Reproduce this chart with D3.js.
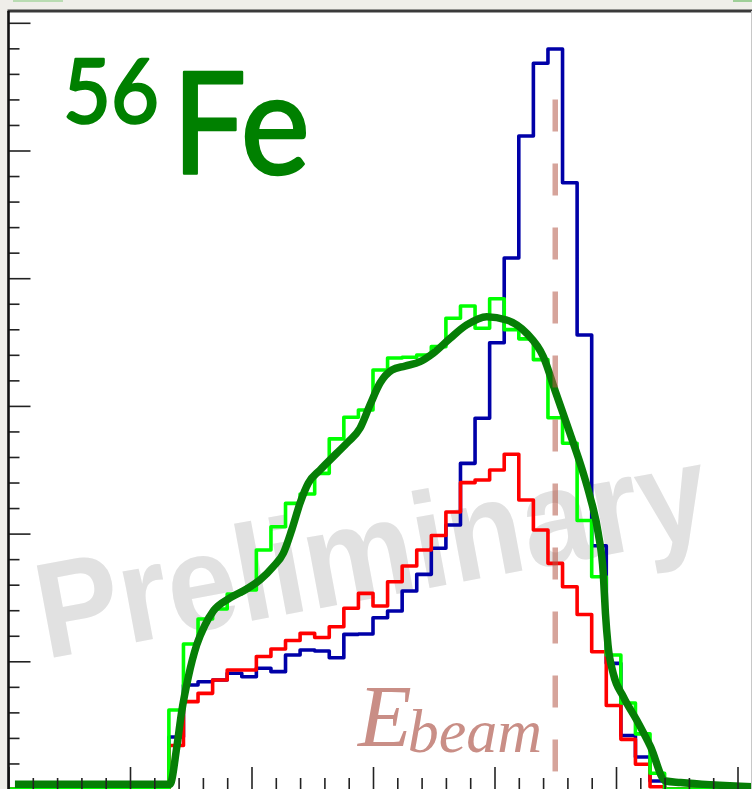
<!DOCTYPE html>
<html>
<head>
<meta charset="utf-8">
<script src="https://cdn.jsdelivr.net/npm/d3@7/dist/d3.min.js"></script>
<style>
  html, body { margin: 0; padding: 0; background: #efeee9; }
  svg { display: block; }
</style>
</head>
<body>
<svg id="chart" width="752" height="789"></svg>
<script>
// Reconstructed energy, 56Fe. Bins are 0.12 wide starting at 0; first filled bin is #11.
const binWidth = 0.12;
const firstBin = 11;

const blueValues = [0.407, 0.814, 0.840, 0.854, 0.906, 0.879, 0.945, 0.919, 1.049, 1.088,
  1.081, 1.028, 1.211, 1.214, 1.341, 1.394, 1.550, 1.681, 1.885, 2.067,
  2.550, 2.903, 3.495, 4.158, 5.114, 5.683, 5.795, 4.748, 3.555, 1.905,
  0.984, 0.419, 0.251, 0.063];

const redValues = [0.341, 0.684, 0.749, 0.854, 0.932, 0.932, 1.038, 1.096, 1.163, 1.219,
  1.186, 1.271, 1.415, 1.532, 1.433, 1.623, 1.746, 1.872, 1.985, 2.169,
  2.399, 2.420, 2.498, 2.621, 2.263, 2.028, 1.767, 1.584, 1.366, 1.075,
  0.654, 0.389, 0.194, 0.018];

const greenValues = [0.619, 1.135, 1.331, 1.410, 1.527, 1.558, 1.872, 2.054, 2.237, 2.310,
  2.472, 2.742, 2.911, 2.968, 3.281, 3.375, 3.381, 3.399, 3.464, 3.686,
  3.782, 3.608, 3.839, 3.597, 3.525, 3.362, 2.907, 2.707, 2.103, 1.662,
  1.049, 0.673, 0.432, 0.123];

// smooth fit curve (dark green)
const fitX = [0.053, 1.329, 1.384, 1.425, 1.480, 1.549, 1.617, 1.686, 1.823, 1.960,
  2.070, 2.179, 2.262, 2.331, 2.399, 2.467, 2.564, 2.701, 2.794, 2.893,
  2.975, 3.058, 3.156, 3.263, 3.387, 3.496, 3.634, 3.771, 3.936, 4.100,
  4.265, 4.402, 4.506, 4.621, 4.731, 4.786, 4.854, 4.895, 4.913, 4.934,
  4.977, 5.060, 5.170, 5.284, 5.407, 5.531, 6.119];
const fitY = [0.037, 0.037, 0.321, 0.603, 0.877, 1.128, 1.284, 1.394, 1.496, 1.566,
  1.637, 1.741, 1.846, 2.028, 2.237, 2.394, 2.498, 2.629, 2.717, 2.825,
  3.007, 3.179, 3.281, 3.312, 3.346, 3.412, 3.529, 3.634, 3.699, 3.673,
  3.568, 3.385, 3.099, 2.785, 2.472, 2.289, 2.002, 1.689, 1.376, 1.128,
  0.906, 0.723, 0.540, 0.331, 0.063, 0.051, 0.018];

const eBeam = 4.5;
const eBeamTop = 5.4;
const eBeamBottom = 0.13;

const width = 752, height = 789;
const plot = { left: 8.5, top: 11, right: 752, bottom: 789 };

const x = d3.scaleLinear().domain([0, 1]).range([plot.left, plot.left + 121.5]);
const y = d3.scaleLinear().domain([0, 1]).range([plot.bottom, plot.bottom - 127.7]);
const xMax = x.invert(plot.right + 10);

const svg = d3.select('#chart');

// paper background + white frame
svg.append('rect').attr('width', width).attr('height', height).attr('fill', '#efeee9');
svg.append('rect').attr('x', 13).attr('y', 0).attr('width', 50).attr('height', 2).attr('fill', '#b9dcb2');
svg.append('rect').attr('x', 733).attr('y', 0).attr('width', 19).attr('height', 2).attr('fill', '#9fcf98');
svg.append('rect')
  .attr('x', plot.left).attr('y', plot.top)
  .attr('width', plot.right - plot.left).attr('height', plot.bottom - plot.top)
  .attr('fill', '#ffffff');

// watermark (under the data)
svg.append('text')
  .attr('transform', 'translate(380,597) rotate(-10.5)')
  .attr('text-anchor', 'middle')
  .attr('font-family', '"Liberation Sans", Arial, sans-serif')
  .attr('font-weight', 700)
  .attr('font-size', 136)
  .attr('textLength', 680)
  .attr('lengthAdjust', 'spacingAndGlyphs')
  .attr('fill', '#e1e1e1')
  .text('Preliminary');

svg.append('clipPath').attr('id', 'plotClip')
  .append('rect')
  .attr('x', plot.left).attr('y', plot.top)
  .attr('width', plot.right - plot.left).attr('height', plot.bottom - plot.top + 4);

const g = svg.append('g').attr('clip-path', 'url(#plotClip)');

// histograms
function histPoints(vals) {
  const pts = [[0, 0]];
  vals.forEach((v, i) => pts.push([(firstBin + i) * binWidth, v]));
  pts.push([(firstBin + vals.length) * binWidth, 0]);
  pts.push([xMax, 0]);
  return pts;
}
const stepLine = d3.line()
  .x(d => x(d[0])).y(d => y(d[1]))
  .curve(d3.curveStepAfter);

const series = [
  { vals: blueValues, color: '#0000a8' },
  { vals: redValues, color: '#ff0000' },
  { vals: greenValues, color: '#00ff00' },
];
series.forEach(s => {
  g.append('path')
    .attr('d', stepLine(histPoints(s.vals)))
    .attr('fill', 'none')
    .attr('stroke', s.color)
    .attr('stroke-width', 3.6)
    .attr('stroke-linejoin', 'round');
});

// fit curve
const fitLine = d3.line()
  .x(d => x(d[0])).y(d => y(d[1]))
  .curve(d3.curveMonotoneX);
g.append('path')
  .attr('d', fitLine(fitX.map((v, i) => [v, fitY[i]])))
  .attr('fill', 'none')
  .attr('stroke', '#067e06')
  .attr('stroke-width', 7.5)
  .attr('stroke-linejoin', 'round');

// E_beam marker
g.append('line')
  .attr('x1', x(eBeam)).attr('x2', x(eBeam))
  .attr('y1', y(eBeamTop)).attr('y2', y(eBeamBottom))
  .attr('stroke', '#b55a48')
  .attr('stroke-opacity', 0.55)
  .attr('stroke-width', 5.5)
  .attr('stroke-dasharray', '32,32');

const lbl = g.append('text')
  .attr('x', 358).attr('y', 746)
  .attr('font-family', '"Liberation Serif", "DejaVu Serif", serif')
  .attr('font-style', 'italic')
  .attr('fill', '#c98e86');
lbl.append('tspan').attr('font-size', 88).text('E');
lbl.append('tspan').attr('font-size', 62).attr('dy', 6).attr('dx', -4).text('beam');

// axes ticks
const isMajor = d => Math.abs(d - Math.round(d)) < 1e-6;
const xAxis = svg.append('g')
  .attr('transform', `translate(0,${plot.bottom})`)
  .call(d3.axisBottom(x).tickValues(d3.range(0, 6.3, 0.2)).tickSize(-11).tickFormat(''));
xAxis.select('.domain').remove();
xAxis.selectAll('.tick line')
  .attr('y2', d => isMajor(d) ? -22 : -11)
  .attr('stroke', '#222').attr('stroke-width', 1.6);

const yAxis = svg.append('g')
  .attr('transform', `translate(${plot.left},0)`)
  .call(d3.axisLeft(y).tickValues(d3.range(0.2, 6.05, 0.2)).tickSize(-11).tickFormat(''));
yAxis.select('.domain').remove();
yAxis.selectAll('.tick line')
  .attr('x2', d => isMajor(d) ? 22 : 11)
  .attr('stroke', '#222').attr('stroke-width', 1.6);

// frame lines
svg.append('line')
  .attr('x1', plot.left - 1).attr('x2', plot.right)
  .attr('y1', plot.top).attr('y2', plot.top)
  .attr('stroke', '#3a3a3a').attr('stroke-width', 3);
svg.append('line')
  .attr('x1', plot.left).attr('x2', plot.left)
  .attr('y1', plot.top).attr('y2', plot.bottom)
  .attr('stroke', '#111').attr('stroke-width', 2.6);
svg.append('line')
  .attr('x1', 751.5).attr('x2', 751.5)
  .attr('y1', plot.top).attr('y2', plot.bottom)
  .attr('stroke', '#c8c8c8').attr('stroke-width', 1);

// nucleus label
const nuc = svg.append('g')
  .attr('fill', '#008000')
  .attr('stroke', '#008000')
  .attr('stroke-width', 2.5)
  .attr('stroke-linejoin', 'round')
  .attr('font-family', 'Lato, "Open Sans", sans-serif')
  .attr('font-weight', 400);
nuc.append('text')
  .attr('x', 63).attr('y', 123)
  .attr('font-size', 90)
  .attr('textLength', 96).attr('lengthAdjust', 'spacingAndGlyphs')
  .text('56');
nuc.append('text')
  .attr('x', 172).attr('y', 174)
  .attr('font-size', 142)
  .attr('textLength', 138).attr('lengthAdjust', 'spacingAndGlyphs')
  .text('Fe');
</script>
</body>
</html>
